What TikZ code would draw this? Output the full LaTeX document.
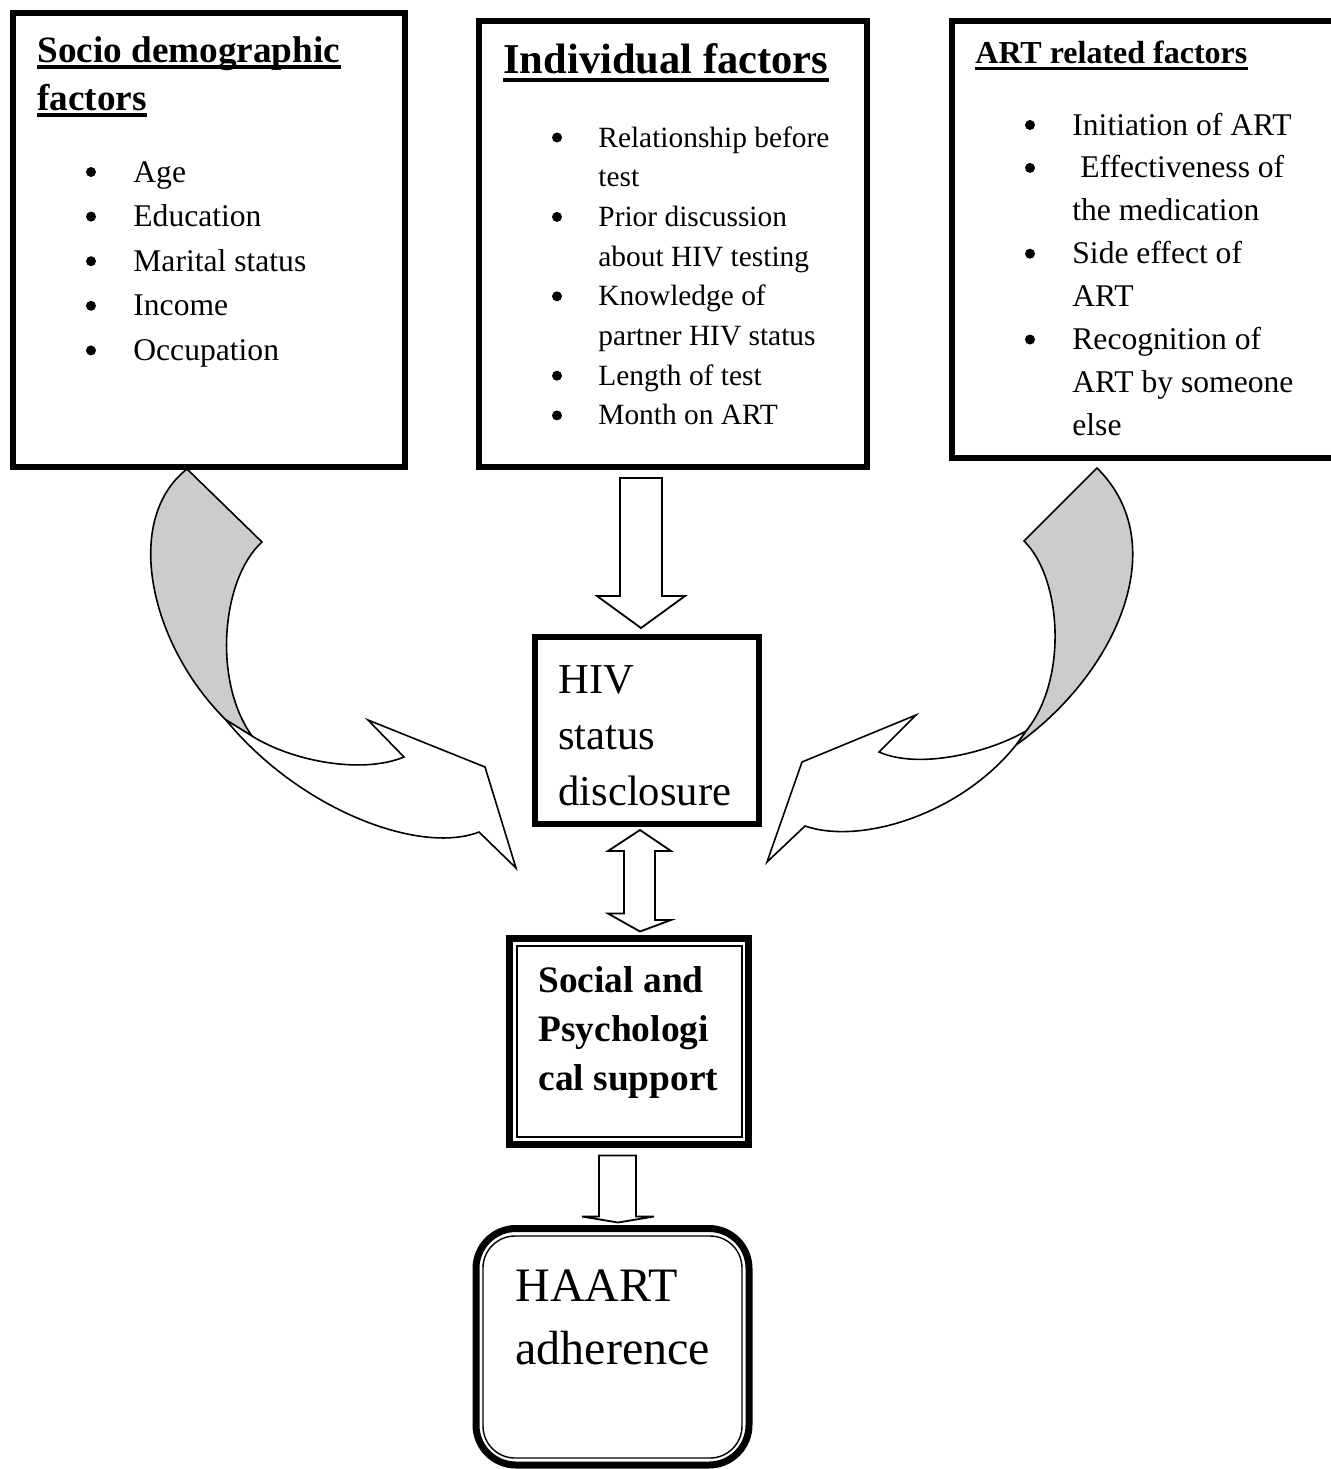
\documentclass[tikz,border=0pt]{standalone}
\usepackage{fontspec}
\setmainfont{Liberation Serif}
\definecolor{ribbon}{RGB}{204,204,204}
\tikzset{
  fbox/.style={draw, line width=3pt, inner sep=0pt},
  txt/.style={inner sep=0pt, anchor=base west},
  dot/.style={circle, fill=black, inner sep=0pt, minimum size=5pt},
  blockarrow/.style={draw, line width=0.9pt, fill=white, line join=miter},
  curv/.style={draw, line width=0.8pt, line join=miter},
  itemS/.style={font=\fontsize{15.8}{20}\selectfont},
  itemI/.style={font=\fontsize{14.7}{19}\selectfont},
  titS/.style={font=\fontsize{18.6}{24}\selectfont\bfseries},
  titI/.style={font=\fontsize{21.25}{26}\selectfont\bfseries},
  titA/.style={font=\fontsize{16}{20}\selectfont\bfseries},
}
\begin{document}
\begin{tikzpicture}[x=0.5pt, y=-0.5pt]
\useasboundingbox (0,0) rectangle (1330,1469);

% ---------- top boxes ----------
\node[fbox, minimum width=196pt, minimum height=227pt] (sd) at (209,240) {};
\node[fbox, minimum width=194pt, minimum height=223pt] (ind) at (673,244) {};
\node[fbox, minimum width=196.5pt, minimum height=218.25pt] (art) at (1148.5,239.25) {};

% Socio demographic
\node[txt, titS] (sdt1) at (37,62) {Socio demographic};
\node[txt, titS] (sdt2) at (37,110) {factors};
\draw[line width=2pt] ([yshift=-2.6pt]sdt1.base west) -- ([yshift=-2.6pt]sdt1.base east);
\draw[line width=2pt] ([yshift=-2.6pt]sdt2.base west) -- ([yshift=-2.6pt]sdt2.base east);
\foreach \t [count=\i] in {Age,Education,Marital status,Income,Occupation}{
  \node[txt, itemS] (sdi\i) at (133,{182+44.6*(\i-1)}) {\t};
  \node[dot] (sdb\i) at (91,{172+44.6*(\i-1)}) {};
}

% Individual factors
\node[txt, titI] (indt) at (503,73) {Individual factors};
\draw[line width=2pt] ([yshift=-3.4pt]indt.base west) -- ([yshift=-3.4pt]indt.base east);
\foreach \t/\b [count=\i] in {Relationship before/1, test/0, Prior discussion/1,
  about HIV testing/0, Knowledge of/1, partner HIV status/0, Length of test/1, Month on ART/1}{
  \node[txt, itemI] (indi\i) at (598,{147+39.7*(\i-1)}) {\t};
  \ifnum\b=1 \node[dot] (indb\i) at (557,{137.5+39.7*(\i-1)}) {};\fi
}

% ART related factors
\node[txt, titA] (artt) at (975,63) {ART related factors};
\draw[line width=1.5pt] ([yshift=-2.5pt]artt.base west) -- ([yshift=-2.5pt]artt.base east);
\foreach \t/\b/\xo [count=\i] in {Initiation of ART/1/1072, Effectiveness of/1/1080,
  the medication/0/1072, Side effect of/1/1072, ART/0/1072, Recognition of/1/1072,
  ART by someone/0/1072, else/0/1072}{
  \node[txt, itemS] (arti\i) at (\xo,{135+42.9*(\i-1)}) {\t};
  \ifnum\b=1 \node[dot] (artb\i) at (1030,{125+42.9*(\i-1)}) {};\fi
}

% ---------- HIV status disclosure ----------
\node[fbox, minimum width=112pt, minimum height=93.5pt] (hiv) at (647,730.5) {};
\node[txt, font=\fontsize{21.3}{28}\selectfont] (hiv1) at (558,693) {HIV};
\node[txt, font=\fontsize{21.3}{28}\selectfont] (hiv2) at (558,749) {status};
\node[txt, font=\fontsize{21.3}{28}\selectfont] (hiv3) at (558,805) {disclosure};

% ---------- Social and Psychological support ----------
\node[draw, line width=3.5pt, inner sep=0pt, minimum width=119.5pt, minimum height=103pt] (sps) at (629,1041.5) {};
\node[draw, line width=0.7pt, inner sep=0pt, minimum width=112.5pt, minimum height=95.5pt] (spsin) at (629.5,1041.5) {};
\node[txt, font=\fontsize{18.7}{25}\selectfont\bfseries] (sps1) at (538,992) {Social and};
\node[txt, font=\fontsize{18.7}{25}\selectfont\bfseries] (sps2) at (538,1041) {Psychologi};
\node[txt, font=\fontsize{18.7}{25}\selectfont\bfseries] (sps3) at (538,1090) {cal support};

% ---------- HAART adherence ----------
\node[draw, line width=3.5pt, inner sep=0pt, rounded corners=20pt, minimum width=136.5pt, minimum height=118.25pt] (haart) at (612.5,1346.75) {};
\node[draw, line width=0.7pt, inner sep=0pt, rounded corners=16pt, minimum width=129.5pt, minimum height=111pt] (haartin) at (612.5,1347) {};
\node[txt, font=\fontsize{24}{31}\selectfont] (ha1) at (515,1301) {HAART};
\node[txt, font=\fontsize{24}{31}\selectfont] (ha2) at (515,1364) {adherence};

% ---------- block arrows ----------
% Individual factors -> HIV status disclosure
\draw[blockarrow] ([shift={(-53,8)}]ind.south) -- ([shift={(-11,8)}]ind.south)
  -- ([shift={(-11,126)}]ind.south) -- ([shift={(12,126)}]ind.south)
  -- ([shift={(-6,-6)}]hiv.north) -- ([shift={(-76,126)}]ind.south)
  -- ([shift={(-53,126)}]ind.south) -- cycle;
% HIV status disclosure <-> Social and Psychological support
\draw[blockarrow] ([shift={(-7,3)}]hiv.south) -- ([shift={(24,24)}]hiv.south)
  -- ([shift={(8,24)}]hiv.south) -- ([shift={(8,93)}]hiv.south)
  -- ([shift={(24,93)}]hiv.south) -- ([shift={(11,-3.5)}]sps.north)
  -- ([shift={(-21,-21.5)}]sps.north) -- ([shift={(-5,-21.5)}]sps.north)
  -- ([shift={(-23,24)}]hiv.south) -- ([shift={(-39,24)}]hiv.south) -- cycle;
% Social and Psychological support -> HAART adherence
\draw[blockarrow] ([shift={(-30,7.5)}]sps.south) -- ([shift={(7,7.5)}]sps.south)
  -- ([shift={(7,68.5)}]sps.south) -- ([shift={(25,68.5)}]sps.south)
  -- ([shift={(5.5,-2.5)}]haart.north) -- ([shift={(-47,68.5)}]sps.south)
  -- ([shift={(-30,68.5)}]sps.south) -- cycle;

% ---------- curved arrows ----------
% left: Socio demographic factors -> HIV status disclosure
\draw[curv, fill=ribbon] (187,469) -- (262,542) .. controls (222,578) and (212,680) .. (252,736)
  -- (226,720) .. controls (150,645) and (122,520) .. (187,469) -- cycle;
\draw[curv, fill=white] (226,720) -- (252,736) .. controls (290,760) and (360,775) .. (404,757)
  -- (368,720) -- (485,767) -- (516,868) -- (479,832)
  .. controls (420,855) and (300,810) .. (226,720) -- cycle;
% right: ART related factors -> HIV status disclosure
\draw[curv, fill=ribbon] (1097,468) -- (1024,541) .. controls (1062,578) and (1068,680) .. (1026,731)
  -- (1016,745) .. controls (1115,675) and (1175,545) .. (1097,468) -- cycle;
\draw[curv, fill=white] (1016,745) -- (1026,731) .. controls (990,752) and (920,770) .. (879,752)
  -- (916,715) -- (802,762) -- (767,862) -- (805,826)
  .. controls (860,845) and (960,815) .. (1016,745) -- cycle;
\end{tikzpicture}
\end{document}
